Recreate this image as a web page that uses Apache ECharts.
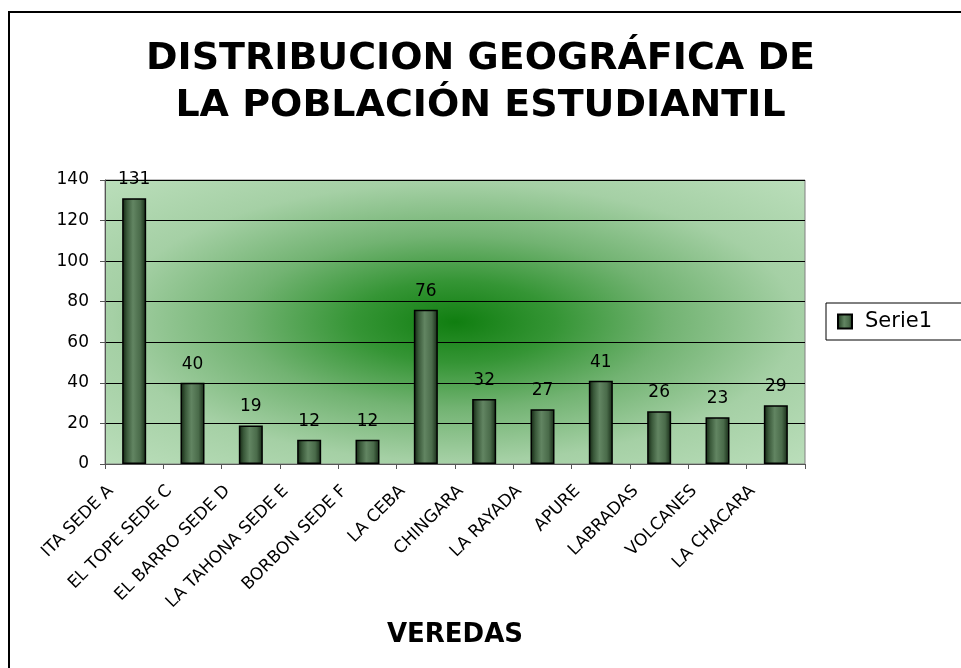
<!DOCTYPE html>
<html>
<head>
<meta charset="utf-8">
<script src="https://cdn.jsdelivr.net/npm/echarts@6/dist/echarts.min.js"></script>
<style>
  html, body { margin: 0; padding: 0; background: #fff; }
  #chart { width: 961px; height: 668px; }
</style>
</head>
<body>
<div id="chart"></div>
<script>
// datos
var veredas = ['ITA SEDE A', 'EL TOPE SEDE C', 'EL BARRO SEDE D', 'LA TAHONA SEDE E', 'BORBON SEDE F',
  'LA CEBA', 'CHINGARA', 'LA RAYADA', 'APURE', 'LABRADAS', 'VOLCANES', 'LA CHACARA'];
var serie1 = [131, 40, 19, 12, 12, 76, 32, 27, 41, 26, 23, 29];
var yTicks = [0, 20, 40, 60, 80, 100, 120, 140];

(function () {
  var myChart = echarts.init(document.getElementById('chart'));
  var fuente = 'DejaVu Sans';
  // area del grafico (px)
  var g = { left: 105, top: 180, width: 700, height: 284 };

  // color de las barras, tipo cilindro
  var barColor = new echarts.graphic.LinearGradient(0, 0, 1, 0, [
    { offset: 0, color: '#10220f' },
    { offset: 0.2, color: '#3a593a' },
    { offset: 0.45, color: '#628562' },
    { offset: 0.75, color: '#4a6b4a' },
    { offset: 1, color: '#142814' }
  ]);

  var option = {
    animation: false,
    backgroundColor: '#ffffff',
    title: {
      text: 'DISTRIBUCION GEOGRÁFICA DE\nLA POBLACIÓN ESTUDIANTIL',
      left: 'center',
      top: 31,
      textStyle: {
        fontFamily: fuente,
        fontSize: 38,
        fontWeight: 'bold',
        color: '#000',
        lineHeight: 47
      }
    },
    graphic: [
      {
        // borde del grafico
        type: 'rect',
        z: -20,
        shape: { x: 9, y: 12, width: 1000, height: 700 },
        style: { fill: '#fff', stroke: '#000', lineWidth: 2 }
      },
      {
        // fondo degradado desde el centro
        type: 'rect',
        z: -10,
        x: g.left,
        y: g.top,
        scaleX: g.width / g.height,
        shape: { x: 0, y: 0, width: g.height, height: g.height },
        style: {
          fill: new echarts.graphic.RadialGradient(0.5, 0.5, 0.72, [
            { offset: 0, color: '#107e10' },
            { offset: 0.2, color: '#359535' },
            { offset: 0.42, color: '#72b372' },
            { offset: 0.68, color: '#a5d0a5' },
            { offset: 1, color: '#bcdfbc' }
          ])
        }
      }
    ],
    legend: {
      data: ['Serie1'],
      left: 826,
      top: 303,
      orient: 'vertical',
      padding: [8, 40, 8, 11],
      borderColor: '#000',
      borderWidth: 1,
      backgroundColor: '#fff',
      itemWidth: 14,
      itemHeight: 14,
      icon: 'rect',
      textStyle: {
        fontFamily: fuente,
        fontSize: 21,
        color: '#000',
        padding: [0, 0, 0, 8]
      }
    },
    grid: {
      left: g.left,
      top: g.top,
      width: g.width,
      height: g.height,
      show: true,
      backgroundColor: 'transparent',
      borderColor: '#808080',
      borderWidth: 1
    },
    xAxis: {
      type: 'category',
      data: veredas,
      name: 'VEREDAS',
      nameLocation: 'middle',
      nameGap: 158,
      nameTextStyle: {
        fontFamily: fuente,
        fontSize: 26,
        fontWeight: 'bold',
        color: '#000'
      },
      axisLine: { lineStyle: { color: '#555', width: 1 } },
      axisTick: { show: true, length: 5, inside: false, lineStyle: { color: '#555' } },
      axisLabel: {
        interval: 0,
        rotate: 45,
        margin: 1,
        padding: [0, 33, 0, 0],
        fontFamily: fuente,
        fontSize: 17,
        color: '#000'
      },
      splitLine: { show: false }
    },
    yAxis: {
      type: 'value',
      min: yTicks[0],
      max: yTicks[yTicks.length - 1],
      interval: 20,
      axisLine: { show: true, lineStyle: { color: '#555', width: 1 } },
      axisTick: { show: true, length: 5, lineStyle: { color: '#555' } },
      axisLabel: {
        margin: 16,
        fontFamily: fuente,
        fontSize: 17,
        color: '#000'
      },
      splitLine: { show: true, lineStyle: { color: '#000', width: 1 } }
    },
    series: [
      {
        name: 'Serie1',
        type: 'bar',
        data: serie1,
        barWidth: 24,
        itemStyle: {
          color: barColor,
          borderColor: '#000',
          borderWidth: 1.5
        },
        label: {
          show: true,
          position: 'top',
          distance: 10,
          fontFamily: fuente,
          fontSize: 17,
          color: '#000'
        }
      }
    ]
  };

  myChart.setOption(option);
  window.addEventListener('resize', function () {
    myChart.resize();
  });
})();
</script>
</body>
</html>
